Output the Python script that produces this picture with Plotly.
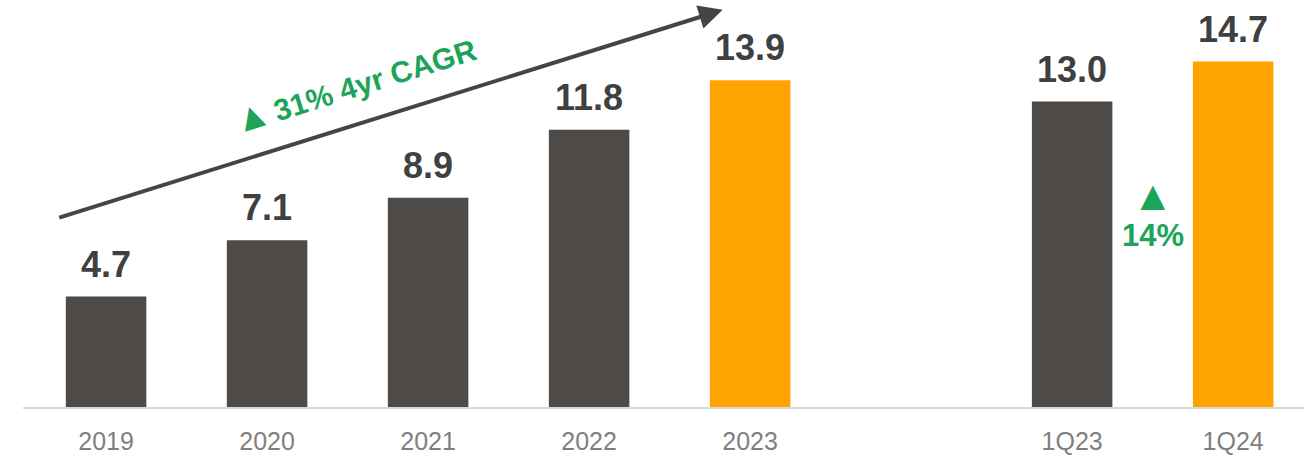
import plotly.graph_objects as go

categories = ["2019", "2020", "2021", "2022", "2023", "1Q23", "1Q24"]
values = [4.7, 7.1, 8.9, 11.8, 13.9, 13.0, 14.7]
highlight = [False, False, False, False, True, False, True]
axis_order = ["2019", "2020", "2021", "2022", "2023", " ", "1Q23", "1Q24"]

DARK = "#4E4A47"
ORANGE = "#FFA300"
GREEN = "#1CA558"
LABEL = "#404040"
FONT = "Liberation Sans, Arial"

colors = [ORANGE if h else DARK for h in highlight]

fig = go.Figure()
fig.add_trace(go.Bar(x=categories, y=values, marker_color=colors,
                     marker_line_width=0, width=0.5, hoverinfo="skip"))

annotations = []
for c, v in zip(categories, values):
    annotations.append(dict(x=axis_order.index(c), y=v, text=f"{v:.1f}", showarrow=False,
                            yanchor="bottom", yshift=10, xref="x", yref="y",
                            font=dict(family=FONT, size=36, color=LABEL, weight="bold")))

# trend arrow
annotations.append(dict(x=3.83, y=16.9, ax=-0.30, ay=8.04, xref="x", yref="y",
                        axref="x", ayref="y", text="", showarrow=True,
                        arrowhead=2, arrowsize=1.2, arrowwidth=4,
                        arrowcolor="#454545"))
annotations.append(dict(x=1.54, y=13.75, xref="x", yref="y",
                        text='<span style="font-size:38px">▲</span>'
                             '<span style="font-size:16px"> </span>31% 4yr CAGR',
                        showarrow=False, textangle=-17.4,
                        font=dict(family=FONT, size=30, color=GREEN, weight="bold")))
annotations.append(dict(x=6.5, y=9.0, xref="x", yref="y",
                        text="▲", showarrow=False,
                        font=dict(family=FONT, size=42, color=GREEN)))
annotations.append(dict(x=6.5, y=7.28, xref="x", yref="y",
                        text="14%", showarrow=False,
                        font=dict(family=FONT, size=31, color=GREEN, weight="bold")))

fig.update_layout(
    width=1304, height=458,
    margin=dict(l=23, r=0, t=0, b=51),
    paper_bgcolor="white", plot_bgcolor="white",
    showlegend=False,
    annotations=annotations,
    xaxis=dict(type="category", categoryorder="array", categoryarray=axis_order,
               range=[-0.516, 7.44], showgrid=False, zeroline=False,
               showline=True, linecolor="#D9D9D9", linewidth=2,
               ticks="", ticklabelstandoff=11,
               tickfont=dict(family=FONT, size=25, color="#7F7F7F")),
    yaxis=dict(range=[0, 17.32], visible=False, showgrid=False, zeroline=False),
)

fig.write_html("out.html")
